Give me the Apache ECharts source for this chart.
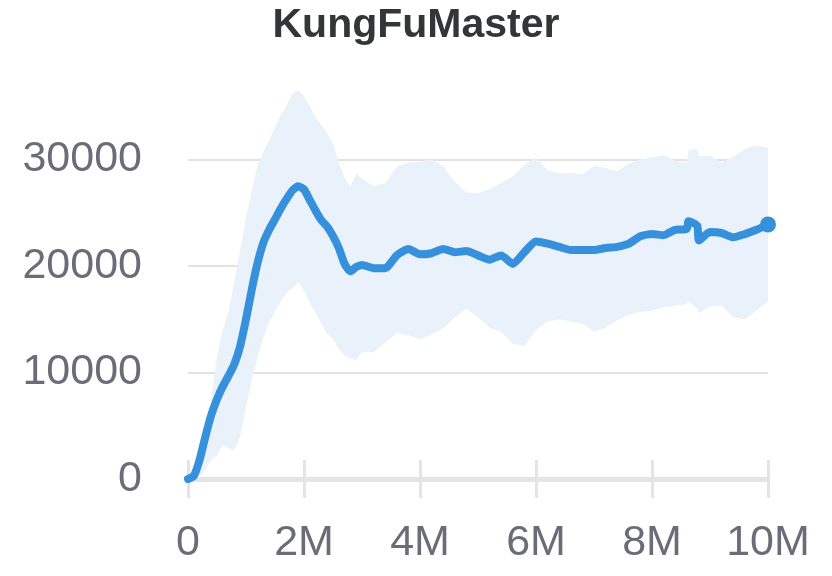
<!DOCTYPE html>
<html>
<head>
<meta charset="utf-8">
<script src="https://cdn.jsdelivr.net/npm/echarts@6/dist/echarts.min.js"></script>
<style>
  html, body { margin: 0; padding: 0; background: #ffffff; }
  #chart { width: 832px; height: 576px; }
</style>
</head>
<body>
<div id="chart"></div>
<script>
// steps in millions of frames
var steps = [0, 0.1, 0.2, 0.3, 0.4, 0.5, 0.6, 0.7, 0.8, 0.9,
  1.0, 1.1, 1.2, 1.3, 1.4, 1.5, 1.6, 1.7, 1.8, 1.9,
  2.0, 2.1, 2.2, 2.3, 2.4, 2.5, 2.6, 2.7, 2.8, 2.9,
  3.0, 3.2, 3.4, 3.6, 3.8, 4.0, 4.2, 4.4, 4.6, 4.8,
  5.0, 5.2, 5.4, 5.6, 5.8, 6.0, 6.2, 6.4, 6.6, 6.8,
  7.0, 7.2, 7.4, 7.6, 7.8, 8.0, 8.2, 8.4, 8.6, 8.63,
  8.78, 8.81, 9.0, 9.2, 9.4, 9.6, 9.8, 10.0]

var meanScore = [0, 300, 1800, 4000, 6000, 7500, 8700, 9700, 10800, 12500,
  15000, 17800, 20300, 22200, 23400, 24400, 25400, 26300, 27100, 27500,
  27200, 26200, 25200, 24300, 23700, 22800, 21700, 20200, 19500, 19900,
  20100, 19800, 19800, 21000, 21600, 21100, 21200, 21600, 21300, 21400,
  21000, 20600, 21000, 20200, 21300, 22300, 22100, 21800, 21500, 21500,
  21500, 21700, 21800, 22100, 22800, 23000, 22900, 23400, 23500, 24200,
  23800, 22400, 23200, 23100, 22700, 23000, 23400, 23900]

var upperScore = [0, 800, 2500, 4500, 7500, 11500, 14000, 15800, 18500, 21500,
  24500, 27150, 29500, 30700, 31800, 33000, 34200, 35000, 36200, 36500,
  36000, 35000, 34000, 33200, 32500, 31500, 29700, 28300, 27400, 28700,
  28200, 27500, 27800, 29300, 29700, 29800, 30000, 29400, 27900, 26900,
  26850, 27200, 27800, 28400, 29500, 30200, 29000, 28700, 28750, 28600,
  29400, 29200, 28900, 29600, 30000, 30250, 30400, 29900, 29650, 30900,
  31000, 30300, 30350, 29700, 30250, 31000, 31350, 31100]

var lowerScore = [0, 100, 300, 900, 1800, 2200, 3200, 2900, 2700, 4000,
  6800, 9300, 11500, 13300, 14700, 15800, 16700, 17500, 17900, 18500,
  17700, 16500, 15600, 14600, 13600, 13200, 12200, 11600, 11300, 11200,
  11900, 11900, 12800, 13700, 13500, 13100, 13600, 14100, 15200, 16000,
  15200, 14200, 13800, 12700, 12500, 14000, 14800, 15000, 14800, 14600,
  13800, 14200, 14900, 15400, 15700, 15800, 16100, 16300, 16400, 16700,
  16000, 15600, 16200, 16300, 15200, 15000, 15800, 16700]

var yTicks = [0, 10000, 20000, 30000]

var chart = echarts.init(document.getElementById('chart'))

var fontFamily = '"Liberation Sans", Arial, sans-serif'
var labelColor = '#6c6c78'
var lineColor = '#3790dc'

var bandData = steps.map(function (s, i) {
  return [s, lowerScore[i], upperScore[i]]
})
var meanData = steps.map(function (s, i) {
  return [s, meanScore[i]]
})
var last = steps.length - 1

var option = {
  animation: false,
  title: {
    text: 'KungFuMaster',
    left: 'center',
    top: 0,
    textStyle: {
      fontFamily: fontFamily,
      fontSize: 41,
      fontWeight: 'bold',
      color: '#333537'
    }
  },
  grid: {
    left: 188,
    right: 64,
    top: 85,
    bottom: 97
  },
  xAxis: [
    {
      type: 'value',
      min: 0,
      max: 10,
      interval: 2,
      axisLine: {
        show: true,
        lineStyle: { color: '#e4e4e6', width: 5 }
      },
      // 下刻度
      axisTick: {
        show: true,
        length: 19,
        lineStyle: { color: '#e4e4e6', width: 3 }
      },
      axisLabel: {
        margin: 43,
        fontFamily: fontFamily,
        fontSize: 43,
        color: labelColor,
        formatter: function (v) {
          return v === 0 ? '0' : v + 'M'
        }
      },
      splitLine: { show: false }
    },
    {
      type: 'value',
      position: 'bottom',
      min: 0,
      max: 10,
      interval: 2,
      axisLine: { show: false },
      // 上刻度
      axisTick: {
        show: true,
        inside: true,
        length: 19,
        lineStyle: { color: '#e4e4e6', width: 3 }
      },
      axisLabel: { show: false },
      splitLine: { show: false }
    }
  ],
  yAxis: {
    type: 'value',
    min: yTicks[0],
    max: 37000,
    interval: yTicks[1] - yTicks[0],
    axisLine: { show: false },
    axisTick: { show: false },
    axisLabel: {
      margin: 46,
      showMaxLabel: false,
      fontFamily: fontFamily,
      fontSize: 43,
      color: labelColor,
      formatter: function (v) {
        return String(v)
      }
    },
    splitLine: {
      show: true,
      showMaxLine: false,
      lineStyle: { color: '#e2e2e6', width: 2 }
    }
  },
  series: [
    {
      name: 'band',
      type: 'custom',
      silent: true,
      z: 1,
      encode: { x: 0, y: [1, 2] },
      data: bandData,
      renderItem: function (params, api) {
        if (params.dataIndex !== 0) return
        var pts = []
        for (var i = 0; i < steps.length; i++) {
          pts.push(api.coord([steps[i], upperScore[i]]))
        }
        for (var j = steps.length - 1; j >= 0; j--) {
          pts.push(api.coord([steps[j], lowerScore[j]]))
        }
        return {
          type: 'polygon',
          shape: { points: pts },
          style: { fill: '#e9f1fa' }
        }
      }
    },
    {
      name: 'mean',
      type: 'line',
      z: 3,
      showSymbol: false,
      smooth: 0.2,
      lineStyle: { color: lineColor, width: 8, cap: 'round', join: 'round' },
      data: meanData
    },
    {
      name: 'end',
      type: 'scatter',
      z: 4,
      symbolSize: 16,
      itemStyle: { color: lineColor, opacity: 1 },
      data: [[steps[last], meanScore[last]]]
    }
  ]
}

chart.setOption(option)
</script>
</body>
</html>
